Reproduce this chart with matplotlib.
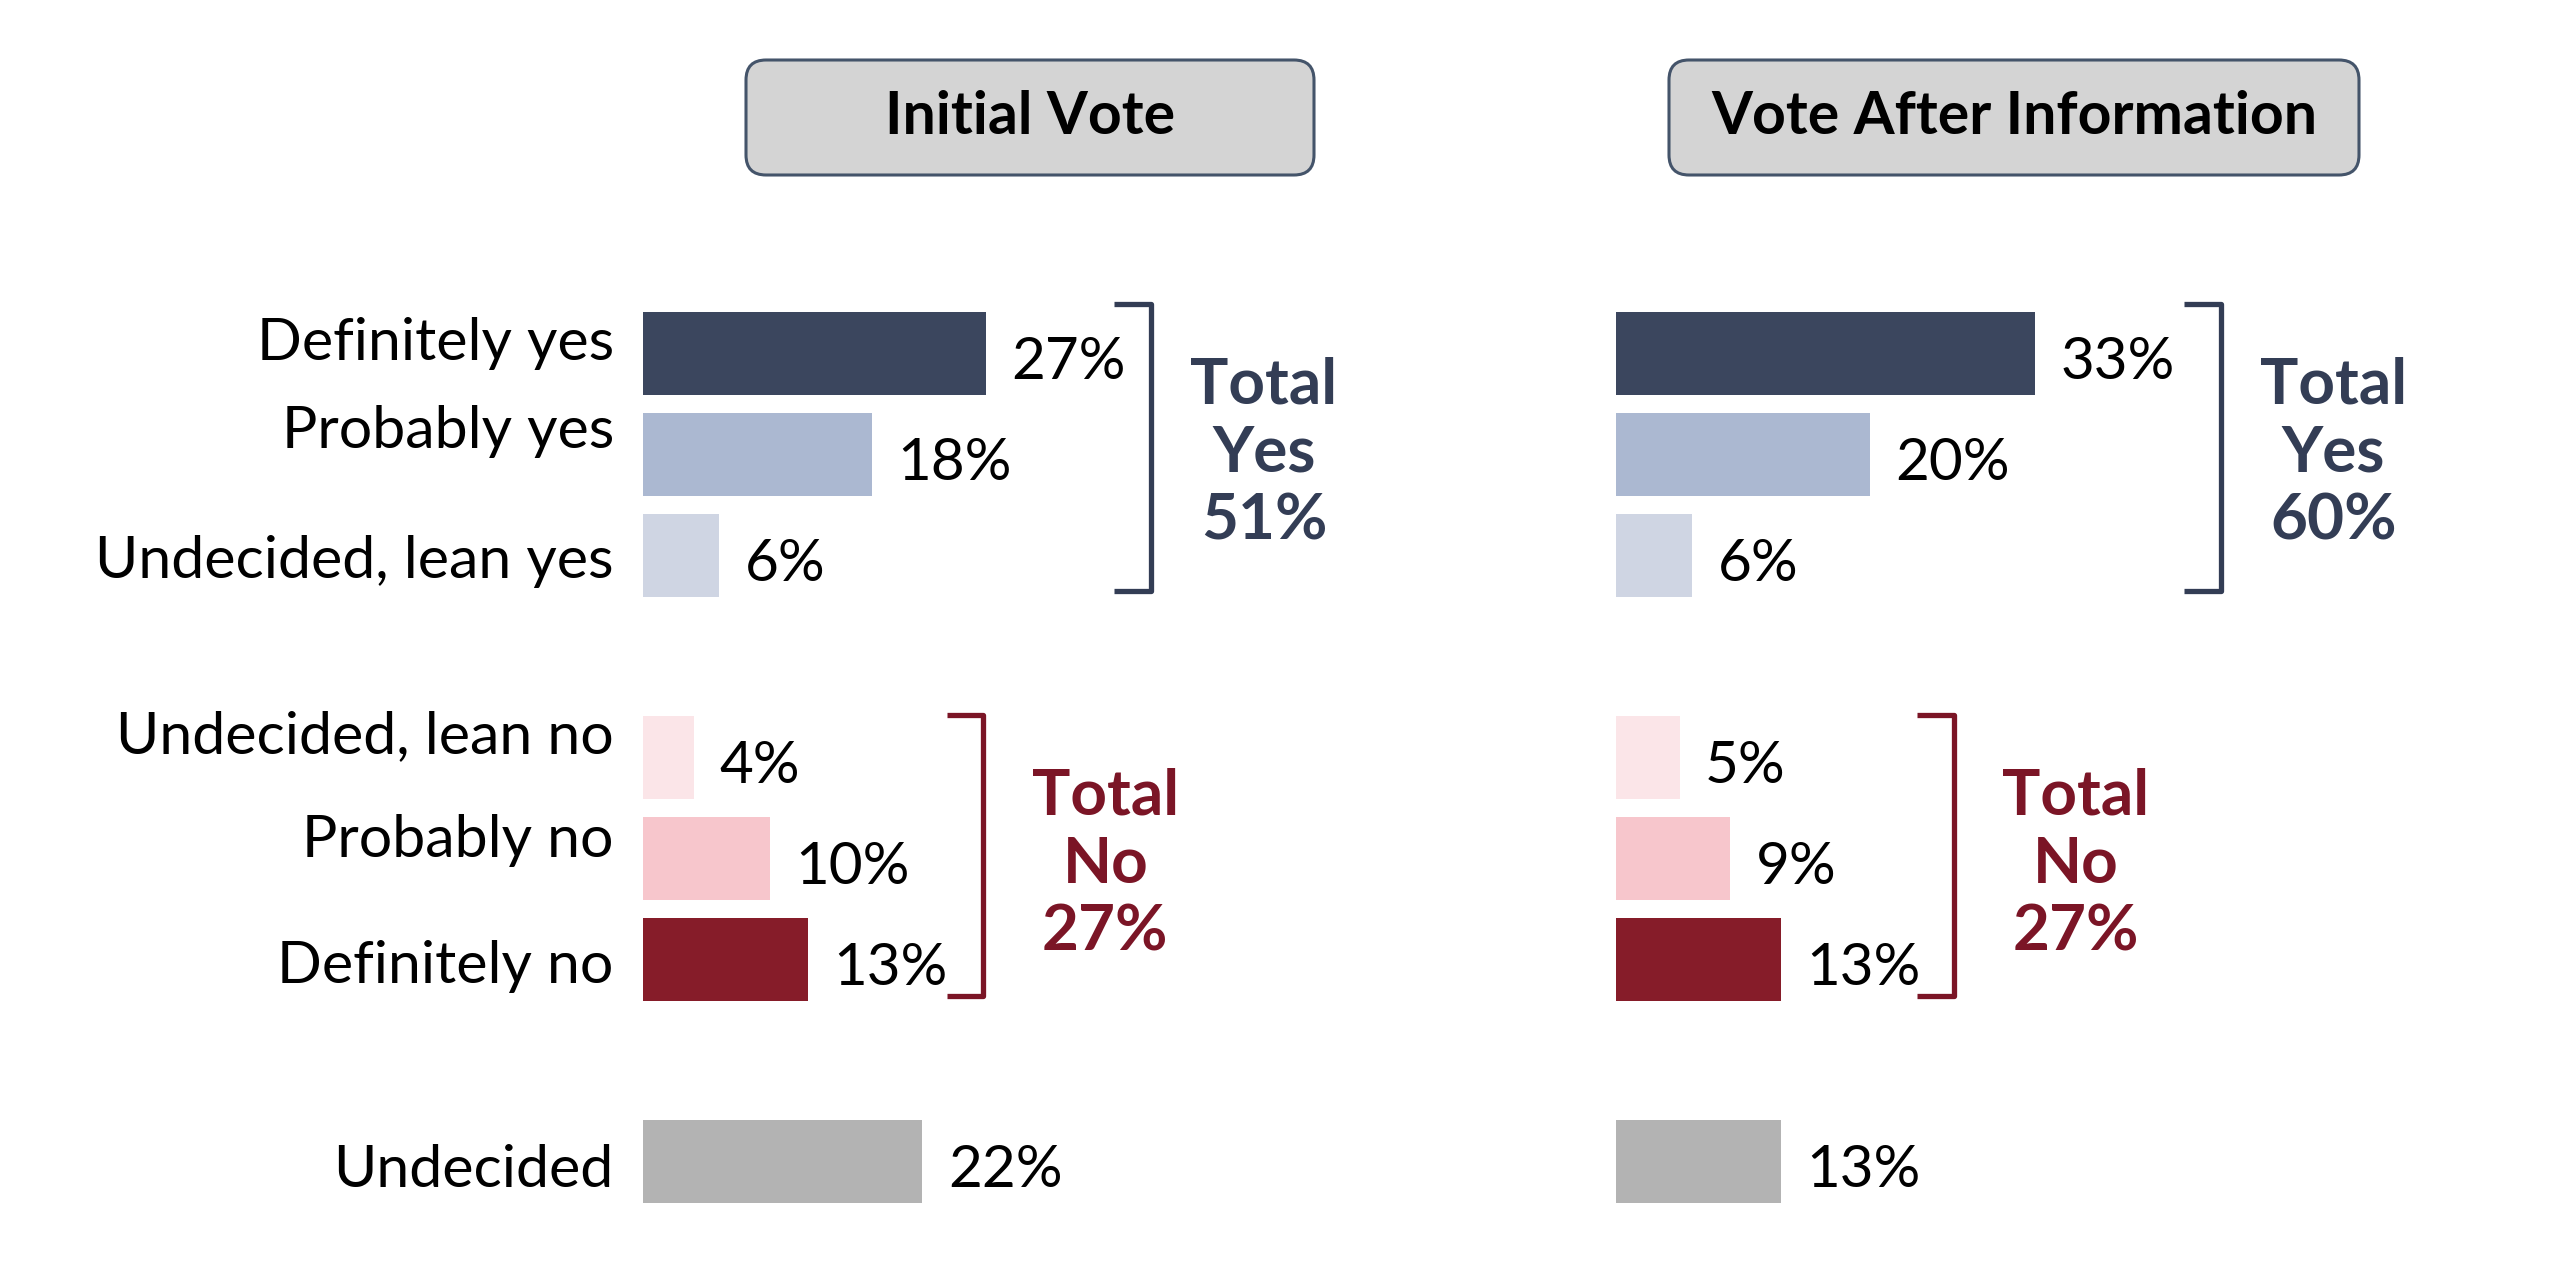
import matplotlib.pyplot as plt
from matplotlib.patches import FancyBboxPatch

plt.rcParams["font.family"] = ["Lato", "DejaVu Sans"]

# data
categories = ["Definitely yes", "Probably yes", "Undecided, lean yes",
              "Undecided, lean no", "Probably no", "Definitely no", "Undecided"]
initial_vote = [27, 18, 6, 4, 10, 13, 22]
after_info = [33, 20, 6, 5, 9, 13, 13]
panel_titles = ["Initial Vote", "Vote After Information"]
total_yes = [51, 60]
total_no = [27, 27]

bar_colors = ["#3b465e", "#abb8d1", "#cfd5e3", "#fbe5e8", "#f7c6cc", "#861c29", "#b3b3b3"]
YES_COLOR = "#333d55"
NO_COLOR = "#7b1526"

# rows: yes group, gap, no group, gap, undecided
rows = [0, 1, 2, 4, 5, 6, 8]
label_nudge = [-0.11, -0.23, 0.05, -0.21, -0.18, 0.06, 0.08]
CAP = 0.17  # baseline offset below visual centre, in row units

W, H = 25.6, 12.72
fig = plt.figure(figsize=(W, H), dpi=100)

ax_bottom = (1272 - 1212) / 1272
ax_height = 909 / 1272
ax_width = 762 / 2560
axes = [fig.add_axes([643 / 2560, ax_bottom, ax_width, ax_height]),
        fig.add_axes([1616 / 2560, ax_bottom, ax_width, ax_height])]

# bracket x (in %) for yes / no group per panel
bracket_x = [(40.0, 26.8), (47.6, 26.6)]


def draw_bracket(ax, x, top, bottom, color):
    w = 2.9
    ax.plot([x - w, x, x, x - w], [top, top, bottom, bottom], color=color,
            lw=3.8, solid_joinstyle="round", solid_capstyle="butt", clip_on=False)


def draw_total(ax, x, center, words, color):
    for k, word in enumerate(words):
        y = center + (k - 1) * 0.675
        ax.text(x, y + CAP + 0.02, word, ha="center", va="baseline", fontsize=46,
                fontweight="bold", color=color, clip_on=False)


for i, (ax, values) in enumerate(zip(axes, [initial_vote, after_info])):
    ax.barh(rows, values, height=0.82, color=bar_colors)
    for r, v in zip(rows, values):
        ax.text(v + 2.0, r + 0.08 + CAP, f"{v}%", ha="left", va="baseline",
                fontsize=42, color="black")
    ax.set_xlim(0, 60)
    ax.set_ylim(8.5, -0.5)
    ax.axis("off")

    yes_x, no_x = bracket_x[i]
    draw_bracket(ax, yes_x, -0.49, 2.35, YES_COLOR)
    draw_bracket(ax, no_x, 3.58, 6.36, NO_COLOR)
    draw_total(ax, yes_x + 8.9, 0.98, ["Total", "Yes", f"{total_yes[i]}%"], YES_COLOR)
    draw_total(ax, no_x + 9.6, 5.05, ["Total", "No", f"{total_no[i]}%"], NO_COLOR)

# category labels on the left panel
for cat, r, nudge in zip(categories, rows, label_nudge):
    axes[0].text(-2.3, r + nudge + CAP, cat, ha="right", va="baseline",
                 fontsize=42.5, color="black", clip_on=False)

# header boxes (inches, so corners stay round)
boxes = [(7.46, 5.68), (16.69, 6.90)]
for (x0, bw), title in zip(boxes, panel_titles):
    box = FancyBboxPatch((x0, (1272 - 175) / 100), bw, 1.15,
                         boxstyle="round,pad=0,rounding_size=0.2",
                         transform=fig.dpi_scale_trans, facecolor="#d4d4d4",
                         edgecolor="#44546a", lw=2.2)
    fig.patches.append(box)
    fig.text((x0 + bw / 2) / W, (1272 - 117) / 1272, title, ha="center",
             va="center", fontsize=42.5, fontweight="bold", color="black")

fig.savefig("out.png", dpi=100)
